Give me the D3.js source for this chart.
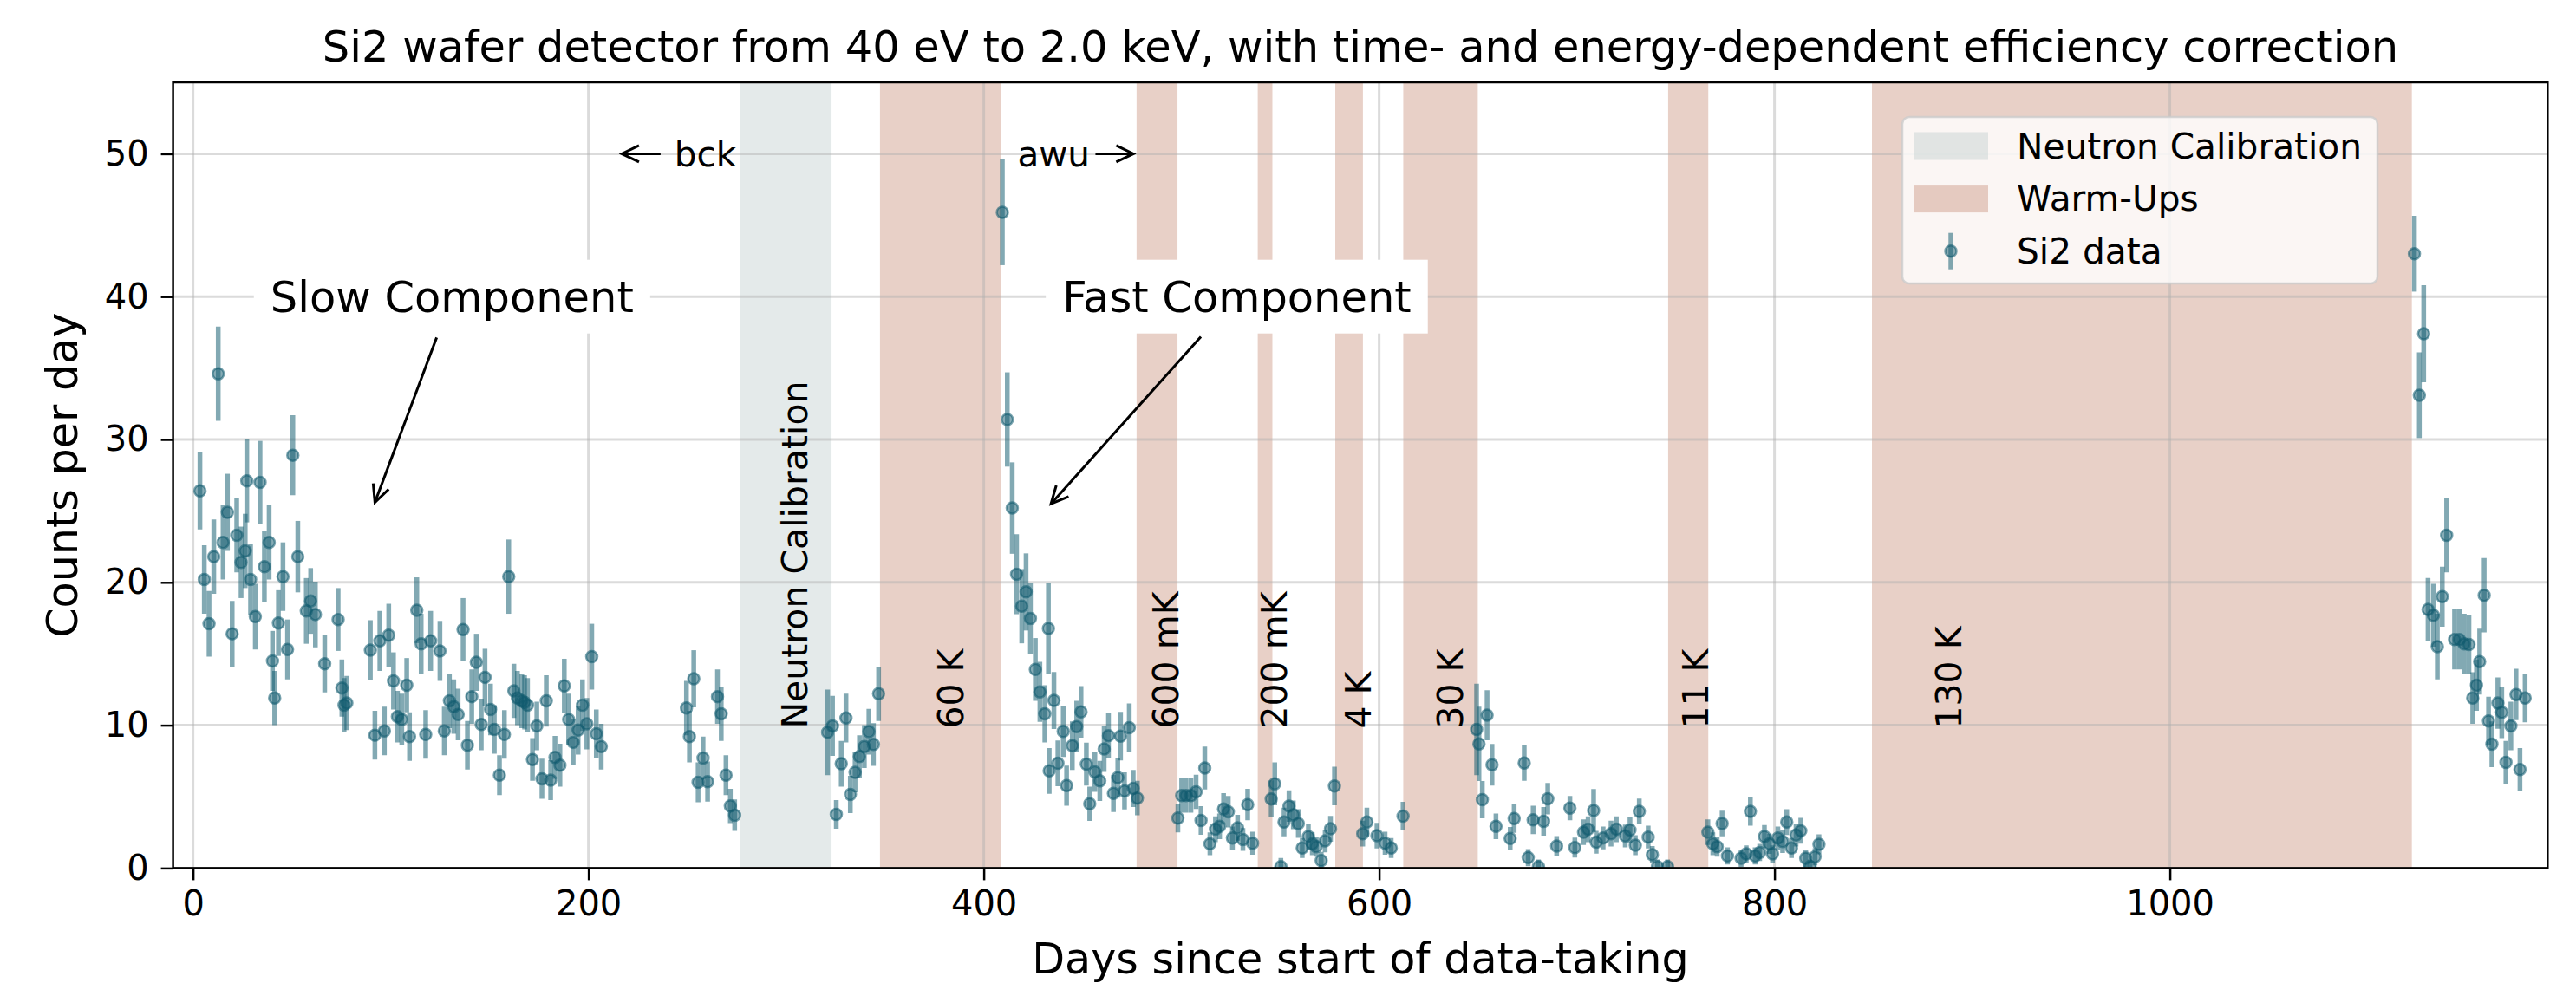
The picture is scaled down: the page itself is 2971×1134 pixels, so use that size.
<!DOCTYPE html>
<html lang="en">
<head>
    <meta charset="UTF-8">
    <title>Si2 wafer detector</title>
    <script src="https://cdn.jsdelivr.net/npm/d3@7"></script>
    <style>
        body { margin: 0; background: #fff; }
        svg text { font-family: "DejaVu Sans", sans-serif; fill: #000; }
    </style>
</head>
<body>
<svg id="chart" width="2971" height="1134"></svg>
<script>
    // ---- data ----
    let days = [
        3.5, 5.7, 8.1, 10.5, 12.75, 15.2, 17.4, 19.8, 22.1, 24.3, 26.4, 27.2, 29.1, 31.5, 33.9, 36.1, 38.5, 40.2, 41.3, 43.2,
        45.5, 47.8, 50.5, 53.0, 57.3, 59.5, 61.9, 66.6, 73.4, 75.3, 76.4, 77.8, 89.7, 92.0, 94.5, 96.8, 99.0, 101.4, 103.4, 105.6,
        108.1, 109.5, 113.2, 115.4, 117.7, 120.2, 124.9, 127.1, 129.7, 131.9, 134.1, 136.6, 138.8, 141.0, 143.3, 145.8, 147.7, 150.5, 152.4, 155.0,
        157.5, 159.7, 162.3, 164.1, 166.3, 167.7, 169.2, 171.7, 173.9, 176.5, 178.7, 180.9, 183.1, 185.6, 187.8, 190.0, 192.3, 194.8, 197.0, 199.2,
        201.7, 204.0, 206.5,
        249.6, 251.1, 253.3, 255.5, 258.0, 260.3, 265.3, 267.2, 269.6, 271.8, 274.0,
        321.0, 323.5, 325.4, 327.9, 330.3, 332.5, 334.9, 337.1, 339.6, 341.9, 344.2, 346.8,
        409.4, 411.9, 414.4, 416.6, 419.2, 421.4, 423.6, 426.1, 428.4, 430.9, 432.7, 433.1, 435.5, 437.5, 440.2, 441.9, 444.8, 447.0, 449.2, 451.9,
        453.6, 456.2, 458.7, 460.9, 463.1, 465.6, 467.8, 469.2, 471.2, 473.6, 475.6, 477.7,
        498.2, 500.1, 502.3, 504.8, 507.4, 509.9, 511.8, 514.4, 517.2, 519.3, 521.3, 523.7, 525.8, 528.4, 531.1, 533.5, 536.0, 545.4, 547.2, 550.3,
        551.9, 554.4, 556.6, 559.1, 561.1, 564.2, 566.2, 568.2, 570.7, 572.7, 575.4, 577.4, 591.7, 593.8, 598.9, 603.0, 606.1, 612.1,
        649.3, 650.5, 652.2, 654.6, 657.1, 659.1, 666.3, 668.3, 673.4, 675.4, 677.9, 680.6, 683.2, 685.3, 689.8, 696.5, 699.0, 703.4, 705.7, 708.5,
        709.8, 713.3, 717.3, 720.0, 724.5, 726.9, 729.6, 731.6, 736.1, 738.2, 740.8, 745.9,
        766.3, 768.8, 771.0, 773.5, 776.2, 783.1, 785.7, 787.8, 790.2, 792.5, 794.9, 797.4, 799.0, 801.7, 804.1, 806.2, 808.6, 810.9, 813.3, 815.8,
        818.0, 820.5, 822.5,
        1123.7, 1126.2, 1128.4, 1130.6, 1133.3, 1135.3, 1137.8, 1140.0, 1144.0, 1146.4, 1148.9, 1151.3, 1153.2, 1155.1, 1156.7, 1159.0, 1161.2, 1162.9, 1165.9, 1167.9,
        1170.0, 1172.5, 1175.1, 1177.1, 1179.7
    ];
    let rate = [
        26.4, 20.2, 17.1, 21.8, 34.6, 22.8, 24.9, 16.4, 23.3, 21.4, 22.2, 27.1, 20.2, 17.6, 27.0, 21.1, 22.8, 14.5, 11.9, 17.15,
        20.4, 15.3, 28.9, 21.8, 18.0, 18.7, 17.75, 14.3, 17.4, 12.6, 11.4, 11.55, 15.25, 9.3, 15.9, 9.6, 16.3, 13.1, 10.6, 10.4,
        12.8, 9.2, 18.05, 15.7, 9.35, 15.9, 15.2, 9.6, 11.7, 11.3, 10.75, 16.7, 8.6, 12.0, 14.4, 10.05, 13.35, 11.1, 9.7, 6.5,
        9.35, 20.4, 12.4, 11.9, 11.7, 11.6, 11.4, 7.6, 9.95, 6.25, 11.7, 6.15, 7.75, 7.2, 12.75, 10.4, 8.8, 9.65, 11.4, 10.1,
        14.8, 9.4, 8.5,
        11.2, 9.2, 13.25, 6.0, 7.7, 6.05, 12.0, 10.8, 6.5, 4.35, 3.7,
        9.5, 9.95, 3.75, 7.3, 10.5, 5.15, 6.7, 7.8, 8.5, 9.55, 8.65, 12.2,
        45.9, 31.4, 25.2, 20.57, 18.33, 19.33, 17.47, 13.9, 12.33, 10.8, 16.77, 6.8, 11.73, 7.33, 9.57, 5.77, 8.57, 9.9, 10.93, 7.27,
        4.5, 6.73, 6.1, 8.33, 9.27, 5.23, 6.33, 9.23, 5.4, 9.83, 5.57, 4.9,
        3.5, 5.07, 5.07, 5.07, 5.33, 3.33, 7.0, 1.7, 2.72, 2.92, 4.14, 3.94, 2.1, 2.82, 2.0, 4.44, 1.74, 4.84, 5.9, 0.1,
        3.22, 4.34, 3.73, 3.12, 1.4, 2.21, 1.7, 1.5, 0.53, 1.9, 2.75, 5.74, 2.41, 3.22, 2.27, 1.74, 1.4, 3.63,
        9.7, 8.69, 4.79, 10.7, 7.23, 2.92, 2.07, 3.47, 7.35, 0.73, 3.37, 0.1, 3.27, 4.85, 1.54, 4.2, 1.44, 2.51, 2.72, 4.03,
        1.81, 2.11, 2.41, 2.72, 2.25, 2.66, 1.6, 3.97, 2.17, 0.94, 0.1, 0.1,
        2.51, 1.7, 1.5, 3.12, 0.85, 0.69, 0.99, 3.97, 0.85, 1.09, 2.21, 1.7, 0.99, 2.1, 1.86, 3.22, 1.4, 2.31, 2.61, 0.69,
        0.1, 0.79, 1.66,
        43.0, 33.1, 37.4, 18.1, 17.7, 15.5, 19.0, 23.3, 16.0, 16.0, 15.7, 15.65, 11.9, 12.8, 14.45, 19.1, 10.3, 8.67, 11.55, 10.9,
        7.4, 9.95, 12.15, 6.9, 11.9
    ];
    let err = [
        2.7, 2.4, 2.3, 2.6, 3.3, 2.6, 2.7, 2.3, 2.6, 2.5, 2.6, 2.9, 2.5, 2.3, 2.9, 2.5, 2.6, 2.1, 1.9, 2.3,
        2.4, 2.1, 2.8, 2.5, 2.3, 2.3, 2.3, 2.0, 2.2, 2.0, 1.9, 1.9, 2.1, 1.7, 2.1, 1.7, 2.2, 2.0, 1.8, 1.8,
        1.9, 1.7, 2.3, 2.1, 1.7, 2.1, 2.1, 1.7, 1.9, 1.9, 1.8, 2.2, 1.7, 1.9, 2.0, 1.8, 2.0, 1.8, 1.7, 1.4,
        1.7, 2.6, 1.9, 1.9, 1.9, 1.9, 1.9, 1.5, 1.7, 1.4, 1.8, 1.4, 1.5, 1.5, 1.9, 1.8, 1.6, 1.7, 1.8, 1.8,
        2.3, 1.7, 1.6,
        1.9, 1.8, 2.0, 1.4, 1.5, 1.4, 1.9, 1.9, 1.4, 1.2, 1.1,
        3.0, 2.1, 1.0, 1.6, 1.7, 1.3, 1.4, 1.5, 1.5, 1.6, 1.5, 1.9,
        3.7, 3.3, 3.2, 2.8, 2.6, 2.7, 2.5, 2.2, 2.1, 2.0, 3.2, 1.6, 2.0, 1.6, 1.8, 1.4, 1.7, 1.8, 1.8, 1.5,
        1.2, 1.4, 1.4, 1.6, 1.6, 1.3, 1.4, 1.7, 1.3, 1.7, 1.3, 1.2,
        1.0, 1.2, 1.2, 1.2, 1.2, 1.0, 1.5, 0.8, 0.9, 0.9, 1.1, 1.1, 0.8, 0.9, 0.8, 1.1, 0.8, 1.3, 1.5, 0.6,
        1.0, 1.1, 1.0, 1.0, 0.7, 0.9, 0.8, 0.7, 0.6, 0.8, 0.9, 1.35, 0.9, 1.0, 0.9, 0.8, 0.7, 1.0,
        3.2, 2.6, 1.3, 1.75, 1.45, 0.9, 0.8, 1.0, 1.25, 0.6, 1.0, 0.5, 1.0, 1.1, 0.7, 0.85, 0.7, 0.9, 0.9, 1.5,
        0.8, 0.8, 0.9, 0.9, 0.8, 0.9, 0.7, 0.9, 0.8, 0.6, 0.5, 0.5,
        0.9, 0.8, 0.7, 0.9, 0.6, 0.6, 0.6, 1.0, 0.6, 0.6, 0.8, 0.7, 0.6, 0.8, 0.8, 0.9, 0.7, 0.8, 0.9, 0.6,
        0.5, 0.6, 0.7,
        2.65, 3.0, 3.4, 2.2, 2.2, 2.3, 2.1, 2.6, 2.1, 2.1, 2.1, 2.1, 1.8, 1.8, 2.3, 2.6, 1.7, 1.6, 1.8, 1.8,
        1.5, 1.7, 1.8, 1.5, 1.7
    ];

    let calSpan = [276.5, 323];
    let warmUps = [[347.5, 408.6], [477.3, 498], [538.6, 546], [577.8, 591.8], [612.2, 649.9], [746.2, 766.5], [849.3, 1122.4]];
    // rotated labels: text, x of baseline (days)
    let spanLabels = [["Neutron Calibration", 310.6], ["60 K", 389.5], ["600 mK", 498.6], ["200 mK", 553.2],
        ["4 K", 595.9], ["30 K", 642.2], ["11 K", 766.5], ["130 K", 894.5]];
    let xTicks = [0, 200, 400, 600, 800, 1000];
    let yTicks = [0, 10, 20, 30, 40, 50];

    let dataColor = '#0f5a6e';
    let calColor = 'rgba(187,203,203,0.4)';
    let warmColor = 'rgba(197,138,115,0.4)';

    let svg = d3.select('#chart');
    let pL = 199.6, pR = 2938.3, pT = 95, pB = 1001.4;

    let scaleX = d3.scaleLinear().domain([-10.1, 1191.1]).range([pL, pR]);
    let scaleY = d3.scaleLinear().domain([0, 55]).range([pB, pT]);

    svg.append('clipPath').attr('id', 'clip')
        .append('rect').attr('x', pL).attr('y', pT)
        .attr('width', pR - pL).attr('height', pB - pT);

    // shaded periods
    let spans = svg.append('g');
    spans.append('rect')
        .attr('x', scaleX(calSpan[0])).attr('y', pT)
        .attr('width', scaleX(calSpan[1]) - scaleX(calSpan[0])).attr('height', pB - pT)
        .attr('fill', calColor);
    spans.selectAll('rect.warm')
        .data(warmUps)
        .enter()
        .append('rect')
        .attr('class', 'warm')
        .attr('x', d => scaleX(d[0])).attr('y', pT)
        .attr('width', d => scaleX(d[1]) - scaleX(d[0])).attr('height', pB - pT)
        .attr('fill', warmColor);

    // grid
    let grid = svg.append('g').attr('stroke', '#b0b0b0').attr('stroke-opacity', 0.45).attr('stroke-width', 3);
    grid.selectAll('line.gx').data(xTicks).enter().append('line')
        .attr('x1', d => scaleX(d)).attr('x2', d => scaleX(d)).attr('y1', pT).attr('y2', pB);
    grid.selectAll('line.gy').data(yTicks).enter().append('line')
        .attr('y1', d => scaleY(d)).attr('y2', d => scaleY(d)).attr('x1', pL).attr('x2', pR);

    // rotated span labels
    svg.append('g').selectAll('text')
        .data(spanLabels)
        .enter()
        .append('text')
        .attr('transform', d => 'translate(' + scaleX(d[1]) + ',' + (scaleY(10) + 4) + ') rotate(-90)')
        .attr('font-size', 41)
        .text(d => d[0]);

    // arrows
    function arrow(g, x1, y1, x2, y2) {
        let a = Math.atan2(y2 - y1, x2 - x1), len = 22, sp = 0.45;
        g.append('line').attr('x1', x1).attr('y1', y1).attr('x2', x2).attr('y2', y2)
            .attr('stroke', '#000').attr('stroke-width', 3);
        g.append('path')
            .attr('d', 'M' + (x2 - len * Math.cos(a - sp)) + ',' + (y2 - len * Math.sin(a - sp)) +
                'L' + x2 + ',' + y2 +
                'L' + (x2 - len * Math.cos(a + sp)) + ',' + (y2 - len * Math.sin(a + sp)))
            .attr('fill', 'none').attr('stroke', '#000').attr('stroke-width', 3);
    }

    let notes = svg.append('g');
    // bck / awu
    notes.append('text').attr('x', scaleX(243.5)).attr('y', scaleY(50)).attr('dy', '0.35em')
        .attr('font-size', 40.5).text('bck');
    arrow(notes, scaleX(236.5), scaleY(50), scaleX(216.9), scaleY(50));
    notes.append('text').attr('x', scaleX(417)).attr('y', scaleY(50)).attr('dy', '0.35em')
        .attr('font-size', 40.5).text('awu');
    arrow(notes, scaleX(456.5), scaleY(50), scaleX(475.7), scaleY(50));

    // component labels with white boxes
    let comps = [['Slow Component', 131, 40, 92, 25.6], ['Fast Component', 528, 40, 434, 25.5]];
    comps.forEach(function (c) {
        let g = svg.append('g');
        let cx = scaleX(c[1]), cy = scaleY(c[2]);
        let box = g.append('rect').attr('fill', '#fff');
        let t = g.append('text').attr('x', cx).attr('y', cy).attr('dy', '0.36em')
            .attr('text-anchor', 'middle').attr('font-size', 49.5).text(c[0]);
        let bb = t.node().getBBox();
        let hw = bb.width / 2 + 19, hh = 42.5;
        box.attr('x', cx - hw).attr('y', cy - hh).attr('width', 2 * hw).attr('height', 2 * hh);
        let tx = scaleX(c[3]), ty = scaleY(c[4]);
        let dx = tx - cx, dy = ty - cy;
        let s = Math.min(Math.abs(hw / dx), Math.abs(hh / dy));
        let sx = cx + dx * s, sy = cy + dy * s;
        sx += dx / Math.hypot(dx, dy) * 5; sy += dy / Math.hypot(dx, dy) * 5;
        arrow(g, sx, sy, tx, ty);
    });

    // data: error bars and markers
    let pts = d3.range(days.length).map(i => ({d: days[i], v: rate[i], e: err[i]}));
    let dataG = svg.append('g').attr('clip-path', 'url(#clip)');
    dataG.selectAll('line.eb')
        .data(pts)
        .enter()
        .append('line')
        .attr('x1', d => scaleX(d.d)).attr('x2', d => scaleX(d.d))
        .attr('y1', d => scaleY(d.v - d.e)).attr('y2', d => scaleY(d.v + d.e))
        .attr('stroke', dataColor).attr('stroke-opacity', 0.52).attr('stroke-width', 5.5);
    dataG.selectAll('circle')
        .data(pts)
        .enter()
        .append('circle')
        .attr('cx', d => scaleX(d.d)).attr('cy', d => scaleY(d.v))
        .attr('r', 6.5)
        .attr('fill', dataColor).attr('fill-opacity', 0.5)
        .attr('stroke', dataColor).attr('stroke-opacity', 0.55).attr('stroke-width', 2.5);

    // axes
    let xAxis = svg.append('g')
        .attr('transform', 'translate(0,' + pB + ')')
        .call(d3.axisBottom(scaleX).tickValues(xTicks).tickFormat(d3.format('d'))
            .tickSize(14).tickPadding(12).tickSizeOuter(0));
    let yAxis = svg.append('g')
        .attr('transform', 'translate(' + pL + ',0)')
        .call(d3.axisLeft(scaleY).tickValues(yTicks).tickSize(14).tickPadding(14).tickSizeOuter(0));
    [xAxis, yAxis].forEach(function (ax) {
        ax.select('.domain').remove();
        ax.selectAll('line').attr('stroke', '#000').attr('stroke-width', 2.5);
        ax.selectAll('text').attr('font-size', 40).attr('font-family', '"DejaVu Sans", sans-serif').attr('fill', '#000');
    });

    svg.append('rect')
        .attr('x', pL).attr('y', pT).attr('width', pR - pL).attr('height', pB - pT)
        .attr('fill', 'none').attr('stroke', '#000').attr('stroke-width', 2.5);

    // titles
    svg.append('text').attr('x', (pL + pR) / 2).attr('y', 71)
        .attr('text-anchor', 'middle').attr('font-size', 49.5)
        .text('Si2 wafer detector from 40 eV to 2.0 keV, with time- and energy-dependent efficiency correction');
    svg.append('text').attr('x', (pL + pR) / 2).attr('y', 1123)
        .attr('text-anchor', 'middle').attr('font-size', 49.2)
        .text('Days since start of data-taking');
    svg.append('text')
        .attr('transform', 'translate(89,' + (pT + pB) / 2 + ') rotate(-90)')
        .attr('text-anchor', 'middle').attr('font-size', 49.2)
        .text('Counts per day');

    // legend
    let lg = svg.append('g').attr('transform', 'translate(2194,135)');
    lg.append('rect').attr('width', 548).attr('height', 192).attr('rx', 8)
        .attr('fill', 'rgba(255,255,255,0.8)').attr('stroke', 'rgba(204,204,204,0.8)').attr('stroke-width', 2.5);
    let rows = [['Neutron Calibration', calColor], ['Warm-Ups', warmColor], ['Si2 data', null]];
    rows.forEach(function (r, i) {
        let cy = 33.5 + i * 60.6;
        if (r[1]) {
            lg.append('rect').attr('x', 13).attr('y', cy - 16).attr('width', 86).attr('height', 32).attr('fill', r[1]);
        } else {
            lg.append('line').attr('x1', 56).attr('x2', 56).attr('y1', cy - 21).attr('y2', cy + 21)
                .attr('stroke', dataColor).attr('stroke-opacity', 0.52).attr('stroke-width', 5.5);
            lg.append('circle').attr('cx', 56).attr('cy', cy).attr('r', 6.5)
                .attr('fill', dataColor).attr('fill-opacity', 0.5)
                .attr('stroke', dataColor).attr('stroke-opacity', 0.55).attr('stroke-width', 2.5);
        }
        lg.append('text').attr('x', 132).attr('y', cy).attr('dy', '0.35em').attr('font-size', 40.7).text(r[0]);
    });
</script>
</body>
</html>
